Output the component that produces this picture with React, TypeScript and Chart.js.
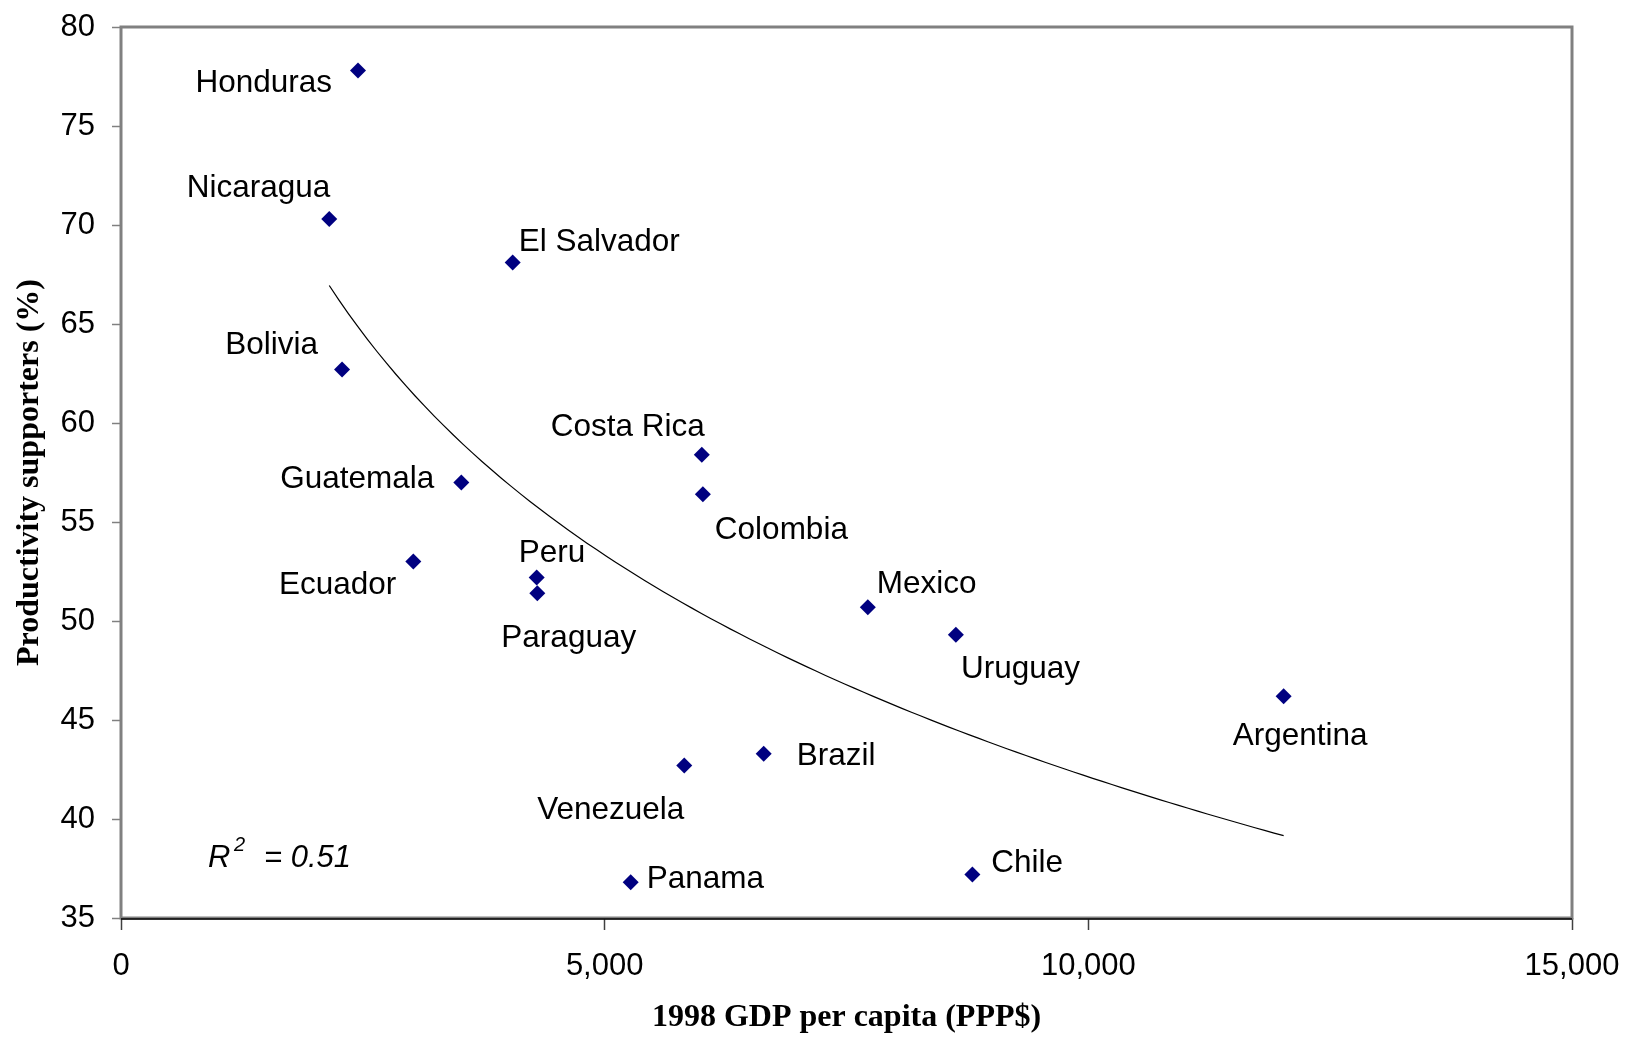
import React, { useEffect, useRef } from "react";
import { Chart, registerables } from "chart.js";

Chart.register(...registerables);

// ---- data ----
const countries = [
  "Honduras", "Nicaragua", "El Salvador", "Bolivia", "Guatemala", "Ecuador",
  "Peru", "Paraguay", "Costa Rica", "Colombia", "Mexico", "Uruguay",
  "Argentina", "Brazil", "Venezuela", "Panama", "Chile",
];
const gdpPerCapita = [
  2450, 2153, 4049, 2285, 3518, 3022,
  4297, 4304, 6004, 6015, 7720, 8631,
  12019, 6644, 5823, 5269, 8801,
];
const productivitySupporters = [
  77.8, 70.3, 68.1, 62.7, 57.0, 53.0,
  52.2, 51.4, 58.4, 56.4, 50.7, 49.3,
  46.2, 43.3, 42.7, 36.8, 37.2,
];
const xTickValues = [0, 5000, 10000, 15000];
const yTickValues = [35, 40, 45, 50, 55, 60, 65, 70, 75, 80];
const rSquaredText = "= 0.51";
const xAxisTitle = "1998 GDP per capita (PPP$)";
const yAxisTitle = "Productivity supporters (%)";

// ---- label placement (pixel offsets from the marker) ----
const labelPlacement: Record<string, { align: CanvasTextAlign; dx: number; dy: number }> = {
  Honduras: { align: "right", dx: -26, dy: 12.5 },
  Nicaragua: { align: "right", dx: 1, dy: -30.5 },
  "El Salvador": { align: "left", dx: 6, dy: -20.5 },
  Bolivia: { align: "right", dx: -24, dy: -24.5 },
  Guatemala: { align: "right", dx: -27, dy: -3.5 },
  Ecuador: { align: "right", dx: -17, dy: 23.5 },
  Peru: { align: "left", dx: -18, dy: -24.5 },
  Paraguay: { align: "left", dx: -36, dy: 45.5 },
  "Costa Rica": { align: "right", dx: 3, dy: -27.5 },
  Colombia: { align: "left", dx: 12, dy: 36.5 },
  Mexico: { align: "left", dx: 9, dy: -22.5 },
  Uruguay: { align: "left", dx: 5, dy: 34.5 },
  Argentina: { align: "left", dx: -51, dy: 40.5 },
  Brazil: { align: "left", dx: 33, dy: 2.5 },
  Venezuela: { align: "right", dx: 0, dy: 44.5 },
  Panama: { align: "left", dx: 16, dy: -3.5 },
  Chile: { align: "left", dx: 19, dy: -11.5 },
};

// logarithmic least-squares trendline from the data
function logFit(xs: number[], ys: number[]) {
  const n = xs.length;
  const ls = xs.map((x) => Math.log(x));
  const ml = ls.reduce((s, v) => s + v, 0) / n;
  const my = ys.reduce((s, v) => s + v, 0) / n;
  let sxy = 0;
  let sxx = 0;
  for (let i = 0; i < n; i++) {
    sxy += (ls[i] - ml) * (ys[i] - my);
    sxx += (ls[i] - ml) * (ls[i] - ml);
  }
  const b = sxy / sxx;
  return { a: my - b * ml, b };
}

const SANS = '"Liberation Sans", Arial, sans-serif';
const SERIF = '"Liberation Serif", "Times New Roman", serif';

const decorPlugin = {
  id: "decor",
  beforeDatasetsDraw(chart: any) {
    const { ctx, chartArea } = chart;
    ctx.save();
    ctx.strokeStyle = "#808080";
    ctx.lineWidth = 3;
    ctx.strokeRect(chartArea.left, chartArea.top, chartArea.right - chartArea.left, chartArea.bottom - chartArea.top);
    ctx.strokeStyle = "#000000";
    ctx.lineWidth = 1.5;
    ctx.beginPath();
    ctx.moveTo(chartArea.left, chartArea.bottom + 1);
    ctx.lineTo(chartArea.right, chartArea.bottom + 1);
    ctx.stroke();
    ctx.restore();
  },
  afterDatasetsDraw(chart: any) {
    const { ctx, chartArea } = chart;
    const meta = chart.getDatasetMeta(0);
    ctx.save();
    ctx.fillStyle = "#000000";
    ctx.font = `31.5px ${SANS}`;
    ctx.textBaseline = "middle";
    meta.data.forEach((el: any, i: number) => {
      const name = countries[i];
      const p = labelPlacement[name];
      ctx.textAlign = p.align;
      ctx.fillText(name, el.x + p.dx, el.y + p.dy);
    });
    // R² annotation
    ctx.textBaseline = "alphabetic";
    ctx.textAlign = "left";
    const bx = chartArea.left;
    const by = chartArea.bottom;
    ctx.font = `italic 31px ${SANS}`;
    ctx.fillText("R", bx + 87, by - 51);
    ctx.font = `italic 20px ${SANS}`;
    ctx.fillText("2", bx + 113, by - 67);
    ctx.font = `italic 31px ${SANS}`;
    ctx.fillText(rSquaredText, bx + 143, by - 51);
    ctx.restore();
  },
};

const zeroPadding = (s: any) => {
  s.paddingTop = 0;
  s.paddingBottom = 0;
  s.paddingLeft = 0;
  s.paddingRight = 0;
};

export default function App() {
  const ref = useRef<HTMLCanvasElement | null>(null);

  useEffect(() => {
    if (!ref.current) return;
    const fit = logFit(gdpPerCapita, productivitySupporters);
    const xMin = Math.min(...gdpPerCapita);
    const xMax = Math.max(...gdpPerCapita);
    const steps = 100;
    const trend = Array.from({ length: steps + 1 }, (_, i) => {
      const x = xMin + ((xMax - xMin) * i) / steps;
      return { x, y: fit.a + fit.b * Math.log(x) };
    });
    const points = gdpPerCapita.map((x, i) => ({ x, y: productivitySupporters[i] }));

    const chart = new Chart(ref.current, {
      type: "scatter",
      data: {
        datasets: [
          {
            label: "Countries",
            data: points,
            pointStyle: "rectRot",
            pointRadius: 8,
            pointHoverRadius: 8,
            backgroundColor: "#000080",
            borderColor: "#000080",
            borderWidth: 0,
            showLine: false,
          },
          {
            label: "Trend",
            data: trend,
            showLine: true,
            pointRadius: 0,
            borderColor: "#000000",
            borderWidth: 1.2,
            fill: false,
          } as any,
        ],
      },
      options: {
        responsive: false,
        animation: false,
        events: [],
        layout: { padding: { top: 27, right: 55, bottom: 0, left: 0 } },
        plugins: { legend: { display: false }, tooltip: { enabled: false }, title: { display: false } },
        scales: {
          x: {
            type: "linear",
            position: "bottom",
            min: 0,
            max: 15000,
            afterBuildTicks: (s: any) => {
              s.ticks = xTickValues.map((v) => ({ value: v }));
            },
            afterFit: (s: any) => {
              s.height = 119;
              zeroPadding(s);
            },
            ticks: {
              color: "#000000",
              font: { family: SANS, size: 31 },
              padding: 18,
              maxRotation: 0,
              callback: (v: any) => Number(v).toLocaleString("en-US"),
            },
            grid: {
              drawOnChartArea: false,
              drawTicks: true,
              tickLength: 12,
              tickColor: "#404040",
              tickWidth: 1.5,
            },
            border: { display: false },
            title: {
              display: true,
              text: xAxisTitle,
              color: "#000000",
              font: { family: SERIF, size: 32, weight: "bold" },
              padding: { top: 0, bottom: 0 },
            },
          },
          y: {
            type: "linear",
            min: 35,
            max: 80,
            afterBuildTicks: (s: any) => {
              s.ticks = yTickValues.map((v) => ({ value: v }));
            },
            afterFit: (s: any) => {
              s.width = 121;
              zeroPadding(s);
            },
            ticks: {
              color: "#000000",
              font: { family: SANS, size: 31 },
              padding: 17,
            },
            grid: {
              drawOnChartArea: false,
              drawTicks: true,
              tickLength: 9,
              tickColor: "#808080",
              tickWidth: 1.5,
            },
            border: { display: false },
            title: {
              display: true,
              text: yAxisTitle,
              color: "#000000",
              font: { family: SERIF, size: 32, weight: "bold" },
              padding: { top: 11, bottom: 0 },
            },
          },
        },
      },
      plugins: [decorPlugin],
    });
    return () => chart.destroy();
  }, []);

  return (
    <div style={{ position: "fixed", left: 0, top: 0, width: 1627, height: 1037, background: "#ffffff" }}>
      <canvas ref={ref} width={1627} height={1037} style={{ display: "block" }} />
    </div>
  );
}
